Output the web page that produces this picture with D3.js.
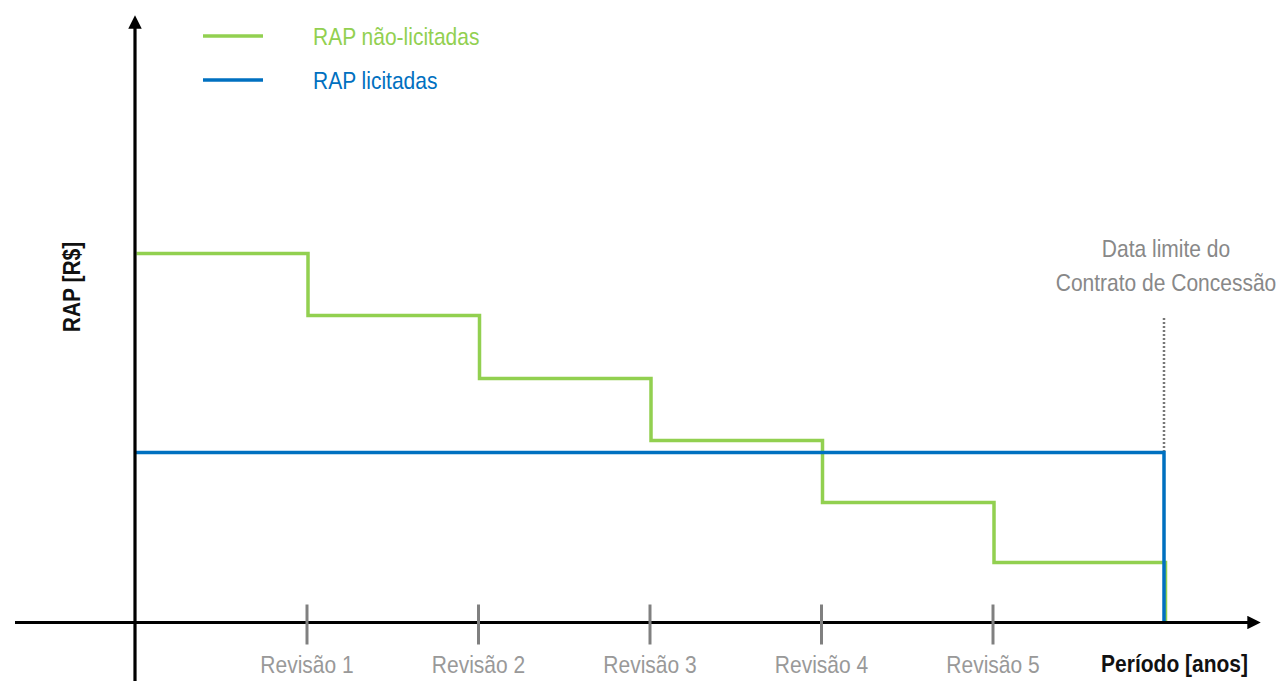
<!DOCTYPE html>
<html><head><meta charset="utf-8">
<script src="https://cdn.jsdelivr.net/npm/d3@7"></script>
<style>
html,body{margin:0;padding:0;background:#fff;}
svg{display:block;}
text{font-family:"Liberation Sans",Arial,sans-serif;}
</style></head>
<body>
<script>
const periods = [0, 1, 2, 3, 4, 5, 6];
const tickValues = [1, 2, 3, 4, 5];
const tickLabels = ["Revisão 1", "Revisão 2", "Revisão 3", "Revisão 4", "Revisão 5"];
const naoLicitadas = [7.38, 6.14, 4.88, 3.64, 2.40, 1.20, 1.20];
const licitadas = [3.40, 3.40, 3.40, 3.40, 3.40, 3.40, 3.40];
const seriesNames = ["RAP não-licitadas", "RAP licitadas"];
const seriesColors = ["#92d050", "#0070c0"];
const endLabel = ["Data limite do", "Contrato de Concessão"];

const W = 1278, H = 681;
const SX = 0.875; // condensed look
const svg = d3.select("body").append("svg").attr("width", W).attr("height", H);

const x = d3.scaleLinear().domain([0, 6]).range([135, 1164]);
const y = d3.scaleLinear().domain([0, 10]).range([622.5, 122.5]);

const defs = svg.append("defs");
defs.append("marker").attr("id", "arrow").attr("viewBox", "0 0 10 10")
  .attr("refX", 2).attr("refY", 5).attr("markerWidth", 4.2).attr("markerHeight", 4.2)
  .attr("orient", "auto-start-reverse").attr("markerUnits", "strokeWidth")
  .append("path").attr("d", "M0,0 L10,5 L0,10 z").attr("fill", "#000");

function label(g, tx, ty, str, opts) {
  const t = g.append("text")
    .attr("transform", `translate(${tx},${ty})${opts.rotate ? " rotate(" + opts.rotate + ")" : ""} scale(${SX},1)`)
    .attr("text-anchor", opts.anchor || "start")
    .attr("font-size", opts.size || 24)
    .attr("fill", opts.fill || "#000")
    .text(str);
  if (opts.bold) t.attr("font-weight", "bold");
  return t;
}

// Series
const stepLine = d3.line().x(d => x(d[0])).y(d => y(d[1])).curve(d3.curveStepAfter);
const greenPts = periods.map((p, i) => [p, naoLicitadas[i]]).concat([[6, 0]]);
const bluePts = periods.map((p, i) => [p, licitadas[i]]).concat([[6, 0]]);

svg.append("path").datum(greenPts).attr("d", stepLine)
  .attr("transform", "translate(1.5,0)")
  .attr("fill", "none").attr("stroke", seriesColors[0]).attr("stroke-width", 3.5);

// Dotted limit line
svg.append("line").attr("x1", x(6)).attr("x2", x(6)).attr("y1", 318).attr("y2", y(licitadas[6]))
  .attr("stroke", "#777").attr("stroke-width", 2.5).attr("stroke-dasharray", "2,2");

svg.append("path").datum(bluePts).attr("d", stepLine)
  .attr("fill", "none").attr("stroke", seriesColors[1]).attr("stroke-width", 3.5);

// Axes
svg.append("line").attr("x1", 15).attr("x2", 1250).attr("y1", y(0)).attr("y2", y(0))
  .attr("stroke", "#000").attr("stroke-width", 3.2).attr("marker-end", "url(#arrow)");
svg.append("line").attr("x1", x(0)).attr("x2", x(0)).attr("y1", H).attr("y2", 26)
  .attr("stroke", "#000").attr("stroke-width", 3.2).attr("marker-end", "url(#arrow)");

const ax = svg.append("g").attr("transform", `translate(0,${y(0)})`)
  .call(d3.axisBottom(x).tickValues(tickValues).tickFormat((d, i) => tickLabels[i]).tickSize(22));
ax.select(".domain").remove();
ax.selectAll(".tick line").attr("y1", -18).attr("y2", 22).attr("stroke", "#808080").attr("stroke-width", 3);
ax.selectAll(".tick text").attr("y", 0).attr("dy", 0)
  .attr("transform", `translate(0,50) scale(${SX},1)`)
  .attr("fill", "#999")
  .style("font-size", "24px").style("font-family", '"Liberation Sans",Arial,sans-serif');

// Axis titles
label(svg, 1248, 672, "Período [anos]", {anchor: "end", bold: true, fill: "#111"});
label(svg, 80, 287, "RAP [R$]", {anchor: "middle", bold: true, fill: "#111", rotate: -90});

// End annotation
endLabel.forEach((t, i) => {
  label(svg, x(6) + 2, 257 + i * 34, t, {anchor: "middle", fill: "#888"});
});

// Legend
seriesNames.forEach((n, i) => {
  const ly = 36 + i * 44;
  svg.append("line").attr("x1", 203).attr("x2", 263).attr("y1", ly).attr("y2", ly)
    .attr("stroke", seriesColors[i]).attr("stroke-width", 3.5);
  label(svg, 313, ly + 9, n, {fill: seriesColors[i]});
});
</script>
</body></html>
